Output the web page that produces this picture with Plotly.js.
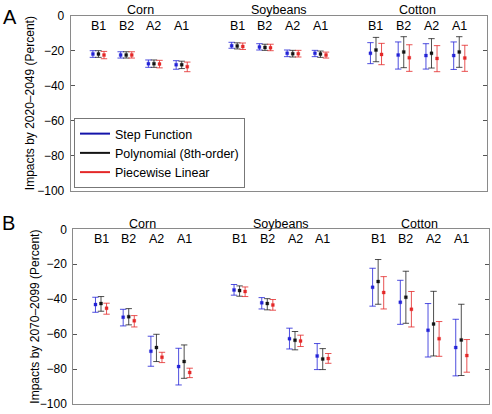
<!DOCTYPE html>
<html>
<head>
<meta charset="utf-8">
<script src="https://cdn.plot.ly/plotly-3.0.1.min.js"></script>
<style>html,body{margin:0;padding:0;background:#fff;}#chart{width:492px;height:414px;}</style>
</head>
<body>
<div id="chart"></div>
<script>
// ---- data ----
const crops = ['Corn', 'Soybeans', 'Cotton'];
const scenarios = ['B1', 'B2', 'A2', 'A1'];
const methods = ['Step Function', 'Polynomial (8th-order)', 'Piecewise Linear'];
const panelTitles = ['Impacts by 2020–2049 (Percent)', 'Impacts by 2070–2099 (Percent)'];
const panelLetters = ['A', 'B'];
const yTicks = [0, -20, -40, -60, -80, -100];

// Panel A (2020–2049): centre, lower, upper  (Corn B1..A1, Soybeans B1..A1, Cotton B1..A1)
const stepA    = [-21.9, -22.5, -27.4, -28.0, -17.1, -17.9, -21.5, -21.5, -21.5, -22.5, -22.8, -22.8];
const stepA_lo = [-23.8, -24.2, -29.5, -30.6, -18.6, -19.6, -23.4, -23.4, -27.4, -30.5, -30.5, -30.7];
const stepA_hi = [-20.0, -20.6, -25.3, -25.7, -15.2, -16.0, -19.6, -19.8, -15.4, -15.0, -16.0, -15.0];
const polyA    = [-21.9, -22.5, -27.4, -28.0, -17.3, -18.1, -21.7, -21.9, -19.6, -20.7, -21.5, -20.7];
const polyA_lo = [-23.8, -24.2, -29.5, -30.2, -19.0, -19.8, -23.6, -23.8, -26.3, -29.7, -29.9, -29.5];
const polyA_hi = [-20.0, -20.6, -25.3, -26.0, -15.5, -16.3, -19.8, -20.2, -12.4, -12.0, -13.1, -12.0];
const pwA      = [-22.5, -22.5, -27.6, -29.1, -17.6, -18.3, -21.7, -22.5, -22.1, -24.0, -24.4, -24.2];
const pwA_lo   = [-24.6, -24.2, -29.8, -32.0, -19.3, -20.0, -23.6, -24.2, -28.0, -31.8, -32.0, -31.8];
const pwA_hi   = [-20.4, -20.6, -25.5, -26.5, -15.6, -16.3, -19.8, -20.8, -15.8, -16.6, -17.1, -16.9];

// Panel B (2070–2099)
const stepB    = [-43.1, -50.3, -69.8, -78.6, -34.7, -42.1, -62.6, -72.5, -33.2, -41.8, -57.8, -67.7];
const stepB_lo = [-47.5, -55.3, -78.4, -89.1, -37.7, -45.6, -68.5, -80.3, -44.0, -54.4, -73.1, -83.9];
const stepB_hi = [-38.9, -45.8, -61.2, -68.1, -31.6, -39.1, -56.6, -65.4, -22.3, -29.2, -42.5, -51.5];
const polyB    = [-42.5, -50.0, -67.7, -75.7, -35.1, -42.5, -63.5, -74.2, -29.9, -38.9, -54.2, -63.3];
const polyB_lo = [-46.9, -54.7, -75.7, -85.3, -38.3, -46.1, -69.0, -80.3, -42.9, -53.8, -72.5, -83.7];
const polyB_hi = [-38.5, -45.4, -60.1, -66.2, -32.4, -39.7, -58.5, -68.3, -17.3, -24.0, -35.5, -42.9];
const pwB      = [-45.2, -52.4, -73.2, -82.0, -35.6, -43.3, -63.9, -74.0, -36.2, -45.8, -62.6, -72.3];
const pwB_lo   = [-48.6, -55.9, -76.3, -84.9, -38.5, -46.3, -67.1, -76.7, -45.6, -55.9, -72.7, -81.8];
const pwB_hi   = [-42.3, -49.4, -70.4, -79.5, -33.0, -40.2, -60.6, -71.1, -27.1, -35.6, -52.8, -63.1];

// ---- build ----
const FONT = '"Liberation Sans", Arial, Helvetica, sans-serif';
const colors = ['rgb(35,35,215)', 'rgb(20,20,20)', 'rgb(228,40,40)'];
const barColors = ['rgba(35,35,215,0.8)', 'rgba(20,20,20,0.75)', 'rgba(228,40,40,0.8)'];
const haloColors = ['rgba(35,35,215,0.3)', 'rgba(20,20,20,0.3)', 'rgba(228,40,40,0.3)'];
const offsets = [-0.2, 0, 0.2];

// category positions: groups of 4 separated by one empty slot
const catPos = [];
const catText = [];
crops.forEach((c, ci) => scenarios.forEach((s, si) => { catPos.push(ci * 5 + si + 1); catText.push(s); }));
const groupCentres = crops.map((c, ci) => ci * 5 + 2.5);

const panels = [
  [[stepA, stepA_lo, stepA_hi], [polyA, polyA_lo, polyA_hi], [pwA, pwA_lo, pwA_hi]],
  [[stepB, stepB_lo, stepB_hi], [polyB, polyB_lo, polyB_hi], [pwB, pwB_lo, pwB_hi]]
];

const traces = [];
panels.forEach((series, pi) => {
  const xa = pi === 0 ? 'x' : 'x2';
  const ya = pi === 0 ? 'y' : 'y2';
  series.forEach((s, mi) => {
    const [mid, lo, hi] = s;
    traces.push({
      type: 'scatter', mode: 'markers', xaxis: xa, yaxis: ya,
      x: catPos.map(p => p + offsets[mi]), y: mid,
      showlegend: false, name: methods[mi],
      marker: {symbol: 'square', size: 3, color: colors[mi], line: {width: 1, color: haloColors[mi]}},
      error_y: {type: 'data', symmetric: false,
        array: hi.map((v, i) => v - mid[i]),
        arrayminus: mid.map((v, i) => v - lo[i]),
        color: barColors[mi], thickness: 1, width: 3.2}
    });
  });
});
// legend entries (lines)
methods.forEach((m, mi) => {
  traces.push({type: 'scatter', mode: 'lines', x: [null], y: [null], xaxis: 'x', yaxis: 'y',
    name: m, showlegend: true, line: {color: mi === 0 ? 'rgb(20,20,170)' : colors[mi], width: 2}});
});

const W = 492, H = 414;
const frameColor = '#8a8a8a';
function xaxisDef(l, r) {
  return {domain: [l / W, r / W], range: [0, 15], side: 'top',
    showticklabels: false, ticks: '',
    showgrid: false, zeroline: false, showline: true, linecolor: frameColor, linewidth: 1, mirror: true,
    fixedrange: true};
}
function yaxisDef(top, bot, anchor) {
  return {domain: [1 - bot / H, 1 - top / H], range: [-100, 0], anchor: anchor,
    tickmode: 'array', tickvals: yTicks, ticks: 'inside', ticklen: 4, tickcolor: '#555',
    tickfont: {family: FONT, size: 12, color: '#000'}, ticklabelstandoff: 3,
    showgrid: false, zeroline: false, showline: true, linecolor: frameColor, linewidth: 1, mirror: 'ticks',
    fixedrange: true};
}

const annotations = [];
[0, 1].forEach(pi => {
  const xr = pi === 0 ? 'x' : 'x2';
  const yr = pi === 0 ? 'y domain' : 'y2 domain';
  crops.forEach((c, ci) => annotations.push({text: c, x: groupCentres[ci], xref: xr, y: 1, yref: yr,
    yanchor: 'bottom', yshift: pi === 0 ? -3 : -4, showarrow: false, font: {family: FONT, size: 12.5, color: '#000'}}));
  catPos.forEach((p, i) => annotations.push({text: catText[i], x: p, xref: xr, y: 1, yref: yr,
    yanchor: 'top', yshift: -1, showarrow: false, font: {family: FONT, size: 12.5, color: '#000'}}));
  // y-axis titles
  annotations.push({text: panelTitles[pi], textangle: -90, showarrow: false,
    x: (pi === 0 ? 30 : 35) / W, xref: 'paper', xanchor: 'center',
    y: 0.5, yref: yr, yanchor: 'middle',
    font: {family: FONT, size: 12, color: '#000'}});
});
annotations.push({text: panelLetters[0], x: 1 / W, xref: 'paper', xanchor: 'left', y: 1 - 4 / H, yref: 'paper', yanchor: 'top',
  showarrow: false, font: {family: FONT, size: 20, color: '#000'}});
annotations.push({text: panelLetters[1], x: 0 / W, xref: 'paper', xanchor: 'left', y: 1 - 210 / H, yref: 'paper', yanchor: 'top',
  showarrow: false, font: {family: FONT, size: 20, color: '#000'}});

const layout = {
  width: W, height: H, autosize: false,
  margin: {l: 0, r: 0, t: 0, b: 0, pad: 0},
  paper_bgcolor: '#fff', plot_bgcolor: '#fff',
  font: {family: FONT, color: '#000'},
  xaxis: Object.assign(xaxisDef(70.7, 487), {anchor: 'y'}),
  yaxis: yaxisDef(15.7, 190.7, 'x'),
  xaxis2: Object.assign(xaxisDef(73.3, 489), {anchor: 'y2'}),
  yaxis2: yaxisDef(229.3, 404, 'x2'),
  showlegend: true,
  legend: {x: 74 / W, xanchor: 'left', y: 1 - 188 / H, yanchor: 'bottom',
    bgcolor: '#fff', bordercolor: '#777', borderwidth: 1,
    font: {family: FONT, size: 12.5, color: '#000'}, itemwidth: 30, tracegroupgap: 0},
  annotations: annotations
};

Plotly.newPlot('chart', traces, layout, {staticPlot: true, displayModeBar: false});
</script>
</body>
</html>
